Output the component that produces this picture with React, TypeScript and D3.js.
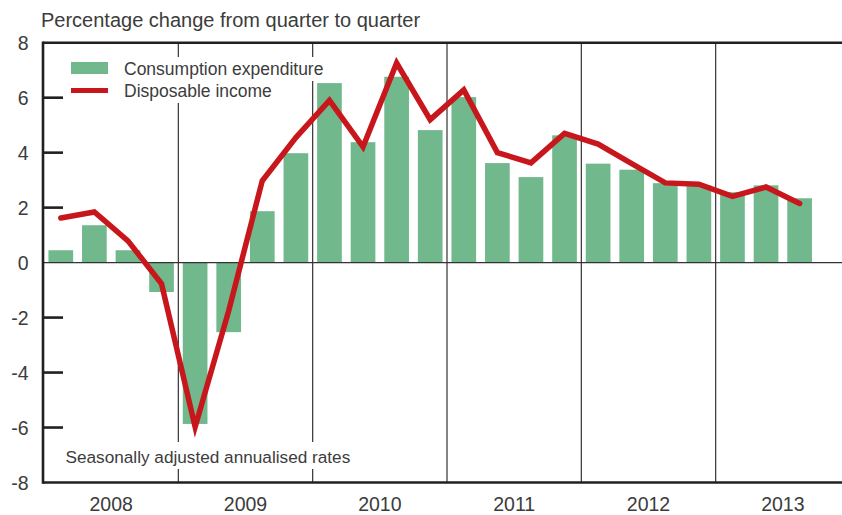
import React from 'react';
import * as d3 from 'd3';

const width = 842, height = 515;
const margin = { top: 42.7, right: -8, bottom: 32.5, left: 44 };

// quarters shown on the x axis (2013 Q4 left empty)
const years = ['2008', '2009', '2010', '2011', '2012', '2013'];
const quarters = years.flatMap(y => ['Q1', 'Q2', 'Q3', 'Q4'].map(q => `${y} ${q}`));

// consumption expenditure, 2008 Q1 - 2013 Q3
const consumption = [0.45, 1.36, 0.45, -1.07, -5.87, -2.53, 1.87, 3.98, 6.53, 4.38, 6.76, 4.82,
    6.02, 3.62, 3.11, 4.63, 3.60, 3.38, 2.89, 2.81, 2.56, 2.81, 2.34];
// disposable income, 2008 Q1 - 2013 Q3
const income = [1.62, 1.84, 0.79, -0.77, -5.98, -1.75, 2.98, 4.55, 5.9, 4.21, 7.26, 5.2,
    6.28, 4.0, 3.63, 4.7, 4.31, 3.6, 2.9, 2.85, 2.41, 2.75, 2.15];

const yTicks = [-8, -6, -4, -2, 0, 2, 4, 6, 8];
const tickMarks = [-6, -4, -2, 2, 4, 6];

const green = '#72b88d', red = '#c8161d', ink = '#231f20', textCol = '#3c3c3c';
const font = '"Liberation Sans", Arial, sans-serif';

export default function App() {
    const pad = 0.265;
    const x = d3.scaleBand<string>().domain(quarters)
        .range([margin.left, width - margin.right])
        .paddingInner(pad).paddingOuter(pad / 2);
    const y = d3.scaleLinear().domain([-8, 8]).range([height - margin.bottom, margin.top]);
    const step = x.step();
    const half = step * pad / 2;

    const line = d3.line<number>()
        .x((d, i) => (x(quarters[i]) as number) + x.bandwidth() / 2)
        .y(d => y(d));

    // x position where each year starts
    const yearStart = (yr: string) => (x(`${yr} Q1`) as number) - half;

    return (
        <svg width={width} height={height} style={{ position: 'absolute', left: 0, top: 0 }}
            fontFamily={font}>
            <rect width={width} height={height} fill="#fff" />

            {/* year separators */}
            {years.slice(1).map(yr => (
                <line key={yr} x1={yearStart(yr)} x2={yearStart(yr)} y1={y(8)} y2={y(-8)}
                    stroke="#333" strokeWidth={1.2} />
            ))}

            {/* bars */}
            {consumption.map((v, i) => (
                <rect key={i} x={x(quarters[i])} width={x.bandwidth()}
                    y={y(Math.max(0, v))} height={Math.abs(y(v) - y(0))} fill={green} />
            ))}

            {/* zero line */}
            <line x1={margin.left} x2={width} y1={y(0)} y2={y(0)} stroke="#333" strokeWidth={1.2} />

            {/* income line */}
            <path d={line(income) || ''} fill="none" stroke={red} strokeWidth={5.5}
                strokeLinejoin="miter" strokeLinecap="round" />

            {/* frame: top, left, bottom */}
            <line x1={margin.left - 1} x2={width} y1={y(8)} y2={y(8)} stroke={ink} strokeWidth={2.6} />
            <line x1={margin.left - 1} x2={width} y1={y(-8)} y2={y(-8)} stroke={ink} strokeWidth={2.6} />
            <line x1={margin.left - 1} x2={margin.left - 1} y1={y(8) - 1.3} y2={y(-8) + 1.3}
                stroke={ink} strokeWidth={2.6} />
            {tickMarks.map(t => (
                <line key={t} x1={margin.left - 1} x2={margin.left + 19} y1={y(t)} y2={y(t)}
                    stroke={ink} strokeWidth={2.6} />
            ))}

            {/* y labels */}
            {yTicks.map(t => (
                <text key={t} x={28.5} y={y(t) + 7} textAnchor="end" fontSize={19.5} fill={textCol}>
                    {t}
                </text>
            ))}

            {/* year labels */}
            {years.map(yr => (
                <text key={yr} x={yearStart(yr) + step * 2} y={511} textAnchor="middle"
                    fontSize={19.5} fill={textCol}>{yr}</text>
            ))}

            {/* title */}
            <text x={41} y={26.5} fontSize={20} fill={textCol}>
                Percentage change from quarter to quarter
            </text>

            {/* legend */}
            <rect x={66} y={57} width={264} height={24} fill="#fff" />
            <rect x={66} y={81} width={212} height={22} fill="#fff" />
            <rect x={71} y={62} width={37} height={12} fill={green} />
            <line x1={71} x2={108} y1={90.5} y2={90.5} stroke={red} strokeWidth={5} />
            <text x={124} y={75} fontSize={17.5} fill={textCol}>Consumption expenditure</text>
            <text x={124} y={97} fontSize={17.5} fill={textCol}>Disposable income</text>

            {/* note */}
            <rect x={62} y={442} width={294} height={27} fill="#fff" />
            <text x={65.5} y={463} fontSize={17.2} fill={textCol}>Seasonally adjusted annualised rates</text>
        </svg>
    );
}
